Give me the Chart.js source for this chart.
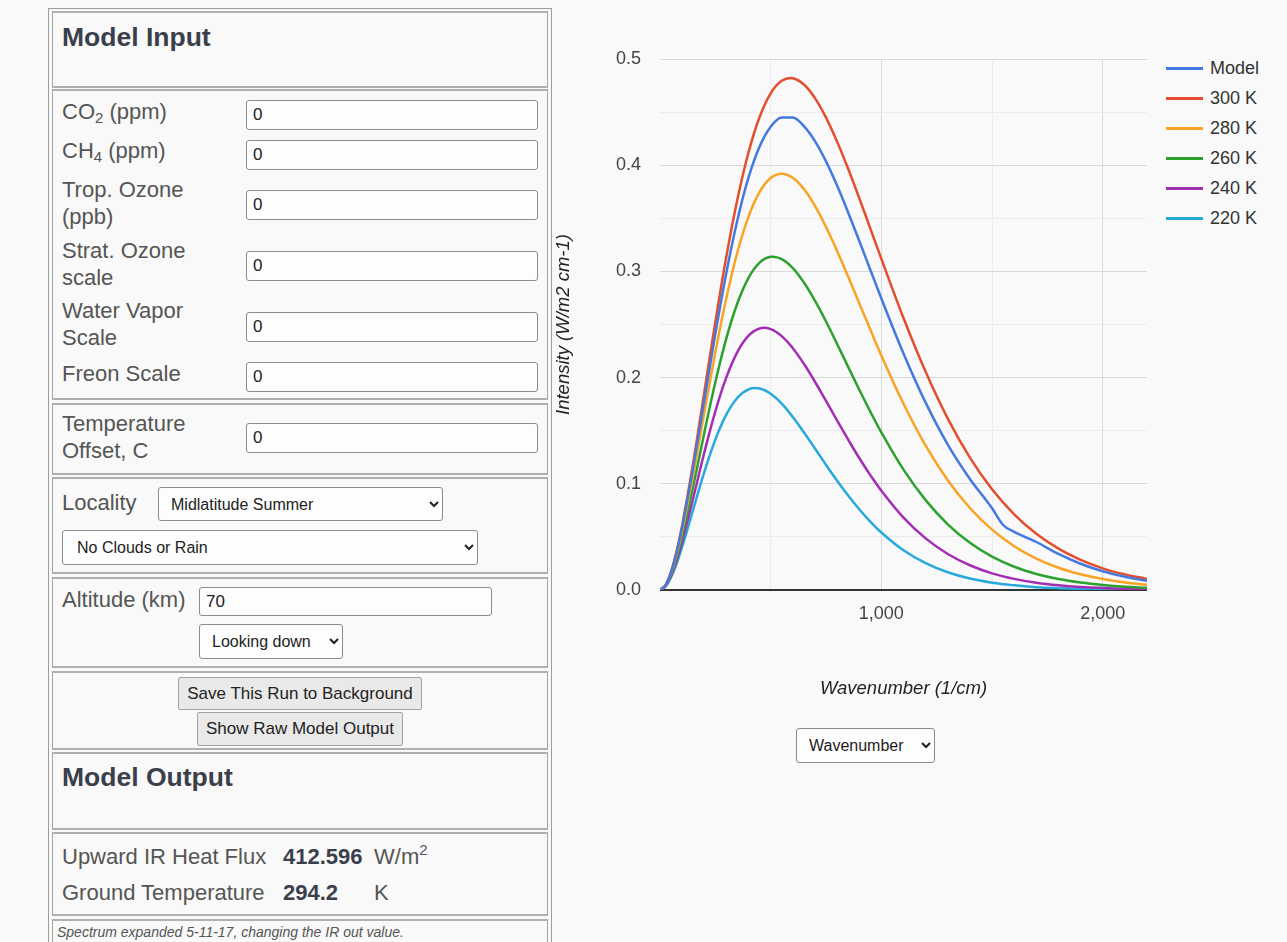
<!DOCTYPE html>
<html>
<head>
<meta charset="utf-8">
<title>Model Input / Spectrum</title>
<script src="https://cdn.jsdelivr.net/npm/chart.js@4.4.1/dist/chart.umd.min.js"></script>
<style>
  body {
    margin: 0;
    width: 1287px;
    height: 942px;
    overflow: hidden;
    position: relative;
    background: #f8f9f8;
    font-family: "Liberation Sans", Arial, sans-serif;
    color: #555;
  }
  .frame {
    position: absolute;
    left: 48px; top: 8px;
    width: 502px; height: 950px;
    border: 1px solid #9d9d9d;
  }
  .cell {
    position: absolute;
    left: 52px;
    width: 494px;
    border: 1px solid #a4a4a4;
    border-top: 2px solid #b0b0b0;
    border-bottom: 2px solid #b0b0b0;
  }
  .abs { position: absolute; white-space: nowrap; }
  .head { font-size: 26.5px; font-weight: bold; color: #3b3f4c; line-height: 32px; }
  .lbl { font-size: 22px; line-height: 26.5px; color: #555; }
  .lbl sub { font-size: 15px; vertical-align: -4px; line-height: 0; }
  .lbl sup { font-size: 15px; vertical-align: 9px; line-height: 0; }
  .val { font-weight: bold; color: #3b3f4c; }
  input.box {
    position: absolute;
    box-sizing: border-box;
    border: 1px solid #8c8c8c;
    border-radius: 3px;
    background: #fdfdfd;
    font: 17px "Liberation Sans", Arial, sans-serif;
    color: #222;
    padding: 0 0 0 6px;
    margin: 0;
  }
  select.sel {
    position: absolute;
    box-sizing: border-box;
    border: 1px solid #8c8c8c;
    border-radius: 3px;
    background: #fdfdfd;
    font: 16px "Liberation Sans", Arial, sans-serif;
    color: #222;
    padding: 0 0 0 8px;
    margin: 0;
  }
  button.btn {
    position: absolute;
    box-sizing: border-box;
    border: 1px solid #a3a3a3;
    border-radius: 2px;
    background: #e9e9e9;
    font: 17px "Liberation Sans", Arial, sans-serif;
    color: #222;
    padding: 0;
    margin: 0;
  }
  .note { font-size: 14px; font-style: italic; color: #555; line-height: 18px; }
  #spectrum { position: absolute; left: 553px; top: 40px; }
  #legend { position: absolute; left: 1166px; top: 53px; }
  .lg-row { position: relative; height: 30px; width: 110px; }
  .lg-line { position: absolute; left: 0; top: 14px; width: 37px; height: 3px; }
  .lg-text { position: absolute; left: 44px; top: 4px; font-size: 18px; line-height: 22px; color: #333; white-space: nowrap; }
</style>
</head>
<body>

<div class="frame"></div>
<div class="cell" style="top:11px;height:73px;"></div>
<div class="cell" style="top:89px;height:307px;"></div>
<div class="cell" style="top:403px;height:68px;"></div>
<div class="cell" style="top:477px;height:93px;"></div>
<div class="cell" style="top:577px;height:87px;"></div>
<div class="cell" style="top:671px;height:75px;"></div>
<div class="cell" style="top:752px;height:74px;"></div>
<div class="cell" style="top:832px;height:80px;"></div>
<div class="cell" style="top:919px;height:40px;"></div>

<div class="abs head" style="left:62px;top:21px;">Model Input</div>

<div class="abs lbl" style="left:62px;top:99px;">CO<sub>2</sub> (ppm)</div>
<input class="box" style="left:246px;top:100px;width:292px;height:30px;" value="0">
<div class="abs lbl" style="left:62px;top:138px;">CH<sub>4</sub> (ppm)</div>
<input class="box" style="left:246px;top:140px;width:292px;height:30px;" value="0">
<div class="abs lbl" style="left:62px;top:177px;">Trop. Ozone<br>(ppb)</div>
<input class="box" style="left:246px;top:190px;width:292px;height:30px;" value="0">
<div class="abs lbl" style="left:62px;top:238px;">Strat. Ozone<br>scale</div>
<input class="box" style="left:246px;top:251px;width:292px;height:30px;" value="0">
<div class="abs lbl" style="left:62px;top:298px;">Water Vapor<br>Scale</div>
<input class="box" style="left:246px;top:312px;width:292px;height:30px;" value="0">
<div class="abs lbl" style="left:62px;top:361px;">Freon Scale</div>
<input class="box" style="left:246px;top:362px;width:292px;height:30px;" value="0">

<div class="abs lbl" style="left:62px;top:411px;">Temperature<br>Offset, C</div>
<input class="box" style="left:246px;top:423px;width:292px;height:30px;" value="0">

<div class="abs lbl" style="left:62px;top:490px;">Locality</div>
<select class="sel" style="left:158px;top:487px;width:285px;height:34px;"><option>Midlatitude Summer</option></select>
<select class="sel" style="left:62px;top:530px;width:416px;height:35px;padding-left:10px;"><option>No Clouds or Rain</option></select>

<div class="abs lbl" style="left:62px;top:587px;">Altitude (km)</div>
<input class="box" style="left:199px;top:587px;width:293px;height:29px;" value="70">
<select class="sel" style="left:199px;top:624px;width:144px;height:35px;"><option>Looking down</option></select>

<button class="btn" style="left:178px;top:677px;width:244px;height:33px;">Save This Run to Background</button>
<button class="btn" style="left:197px;top:712px;width:206px;height:34px;">Show Raw Model Output</button>

<div class="abs head" style="left:62px;top:761px;">Model Output</div>

<div class="abs lbl" style="left:62px;top:844px;">Upward IR Heat Flux</div>
<div class="abs lbl val" style="left:283px;top:844px;">412.596</div>
<div class="abs lbl" style="left:374px;top:844px;">W/m<sup>2</sup></div>
<div class="abs lbl" style="left:62px;top:880px;">Ground Temperature</div>
<div class="abs lbl val" style="left:283px;top:880px;">294.2</div>
<div class="abs lbl" style="left:374px;top:880px;">K</div>

<div class="abs note" style="left:57px;top:923px;">Spectrum expanded 5-11-17, changing the IR out value.</div>

<canvas id="spectrum" width="600" height="662"></canvas>
<div id="legend"></div>

<select class="sel" style="left:796px;top:728px;width:139px;height:35px;"><option>Wavenumber</option></select>

<script>
// wavenumber grid (1/cm) for the reference temperature curves
const wavenumbers = [0, 25, 50, 75, 100, 150, 200, 250, 300, 350, 400, 450, 500, 550, 600, 650, 700, 750, 800, 850, 900, 950, 1000,
  1100, 1200, 1300, 1400, 1500, 1600, 1700, 1800, 1900, 2000, 2100, 2200];

// model run has an extra point at the kink near 1550
const modelWavenumbers = [0, 25, 50, 75, 100, 150, 200, 250, 300, 350, 400, 450, 500, 550, 600, 650, 700, 750, 800, 850, 900, 950, 1000,
  1100, 1200, 1300, 1400, 1500, 1550, 1600, 1700, 1800, 1900, 2000, 2100, 2200];

const modelIntensity = [0, 0.0045, 0.0167, 0.0354, 0.0588, 0.1155, 0.1785, 0.2412, 0.2990, 0.3487, 0.3885, 0.4177, 0.4363, 0.4450, 0.4448, 0.4368, 0.4227, 0.4036, 0.3808, 0.3555, 0.3289, 0.3016, 0.2745,
  0.2227, 0.1764, 0.1369, 0.1045, 0.0770, 0.0612, 0.0548, 0.0452, 0.0340, 0.0247, 0.0176, 0.0124, 0.0086];

const intensity300 = [0, 0.0046, 0.0173, 0.0365, 0.0608, 0.1199, 0.1860, 0.2523, 0.3142, 0.3681, 0.4122, 0.4454, 0.4677, 0.4795, 0.4819, 0.4760, 0.4632, 0.4448, 0.4222, 0.3966, 0.3690, 0.3405, 0.3118,
  0.2561, 0.2054, 0.1614, 0.1247, 0.0949, 0.0713, 0.0529, 0.0389, 0.0283, 0.0204, 0.0147, 0.0104];

const intensity280 = [0, 0.0043, 0.0160, 0.0336, 0.0557, 0.1087, 0.1668, 0.2237, 0.2751, 0.3183, 0.3516, 0.3748, 0.3880, 0.3920, 0.3881, 0.3775, 0.3616, 0.3418, 0.3193, 0.2951, 0.2701, 0.2452, 0.2208,
  0.1754, 0.1360, 0.1033, 0.0772, 0.0568, 0.0412, 0.0296, 0.0210, 0.0148, 0.0103, 0.0071, 0.0049];

const intensity260 = [0, 0.0039, 0.0147, 0.0307, 0.0506, 0.0976, 0.1479, 0.1956, 0.2372, 0.2702, 0.2939, 0.3082, 0.3137, 0.3116, 0.3031, 0.2895, 0.2724, 0.2528, 0.2317, 0.2101, 0.1887, 0.1680, 0.1484,
  0.1134, 0.0846, 0.0618, 0.0444, 0.0314, 0.0219, 0.0151, 0.0103, 0.0070, 0.0047, 0.0031, 0.0021];

const intensity240 = [0, 0.0036, 0.0134, 0.0278, 0.0456, 0.0866, 0.1292, 0.1682, 0.2004, 0.2243, 0.2395, 0.2463, 0.2457, 0.2391, 0.2277, 0.2130, 0.1961, 0.1780, 0.1596, 0.1416, 0.1243, 0.1082, 0.0935,
  0.0682, 0.0486, 0.0339, 0.0233, 0.0157, 0.0105, 0.0069, 0.0045, 0.0029, 0.0019, 0.0012, 0.0007];

const intensity220 = [0, 0.0033, 0.0121, 0.0249, 0.0405, 0.0758, 0.1109, 0.1416, 0.1653, 0.1810, 0.1889, 0.1897, 0.1848, 0.1754, 0.1629, 0.1485, 0.1333, 0.1178, 0.1029, 0.0889, 0.0760, 0.0644, 0.0541,
  0.0374, 0.0253, 0.0167, 0.0108, 0.0069, 0.0044, 0.0027, 0.0017, 0.0010, 0.0006, 0.0004, 0.0002];

const seriesNames = ['Model', '300 K', '280 K', '260 K', '240 K', '220 K'];
const seriesColors = ['#4479df', '#e34f2e', '#f9a325', '#2ca12f', '#a42eb3', '#28a9dc'];

// vertical gridlines and the labelled ones among them
const xGridValues = [500, 1000, 1500, 2000];
const xTickValues = [1000, 2000];
const xTickText = ['1,000', '2,000'];

const toPoints = (xs, ys) => xs.map((x, i) => ({ x, y: ys[i] }));

const seriesPoints = [
  toPoints(modelWavenumbers, modelIntensity),
  toPoints(wavenumbers, intensity300),
  toPoints(wavenumbers, intensity280),
  toPoints(wavenumbers, intensity260),
  toPoints(wavenumbers, intensity240),
  toPoints(wavenumbers, intensity220)
];

// the model keeps its sharp kink, the blackbody curves are smooth
const datasets = seriesNames.map((name, i) => ({
  label: name,
  data: seriesPoints[i],
  borderColor: seriesColors[i],
  backgroundColor: seriesColors[i],
  borderWidth: 2.5,
  pointRadius: 0,
  fill: false,
  cubicInterpolationMode: i === 0 ? 'monotone' : 'default',
  tension: 0.4
}));

const FONT = '"Liberation Sans", Arial, sans-serif';
const CLEAR = 'rgba(0,0,0,0)';

const isMajorY = v => Math.round(v * 100) % 10 === 0;

new Chart(document.getElementById('spectrum'), {
  type: 'line',
  data: { datasets },
  options: {
    responsive: false,
    animation: false,
    layout: { padding: { top: 19, right: 6, bottom: 0, left: 0 } },
    plugins: {
      legend: { display: false },
      tooltip: { enabled: false }
    },
    scales: {
      x: {
        type: 'linear',
        min: 0,
        max: 2200,
        afterBuildTicks: (scale) => { scale.ticks = xGridValues.map(value => ({ value })); },
        afterFit: (scale) => { scale.height = 112; },
        ticks: {
          autoSkip: false,
          maxRotation: 0,
          padding: 3,
          color: '#444',
          font: { family: FONT, size: 18 },
          callback: (v) => {
            const i = xTickValues.indexOf(v);
            return i >= 0 ? xTickText[i] : '';
          }
        },
        grid: {
          drawTicks: true,
          tickLength: 10,
          tickColor: CLEAR,
          color: (ctx) => {
            if (!ctx.tick) return CLEAR;
            return xTickValues.includes(ctx.tick.value) ? '#d9d9d9' : '#ececec';
          }
        },
        border: { display: false },
        title: {
          display: true,
          text: 'Wavenumber (1/cm)',
          color: '#222',
          font: { family: FONT, size: 18.5, style: 'italic' },
          padding: { top: 0, bottom: 2 }
        }
      },
      y: {
        min: 0,
        max: 0.5,
        afterFit: (scale) => { scale.width = 107; },
        ticks: {
          stepSize: 0.05,
          autoSkip: false,
          padding: 3,
          color: '#444',
          font: { family: FONT, size: 18 },
          callback: (v) => isMajorY(v) ? Number(v).toFixed(1) : ''
        },
        grid: {
          drawTicks: true,
          tickLength: 16,
          tickColor: CLEAR,
          color: (ctx) => {
            if (!ctx.tick) return CLEAR;
            const v = ctx.tick.value;
            if (Math.abs(v) < 1e-9) return '#333';
            return isMajorY(v) ? '#d9d9d9' : '#ececec';
          },
          lineWidth: (ctx) => (ctx.tick && Math.abs(ctx.tick.value) < 1e-9) ? 2 : 1
        },
        border: { display: false },
        title: {
          display: true,
          text: 'Intensity (W/m2 cm-1)',
          color: '#222',
          font: { family: FONT, size: 18.5, style: 'italic' },
          padding: { top: 0, bottom: 0 }
        }
      }
    }
  }
});

// legend to the right of the plot, built from the series names
const legend = document.getElementById('legend');
legend.innerHTML = seriesNames.map((name, i) => `
  <div class="lg-row">
    <div class="lg-line" style="background:${seriesColors[i]}"></div>
    <div class="lg-text">${name}</div>
  </div>`).join('');
</script>
</body>
</html>
